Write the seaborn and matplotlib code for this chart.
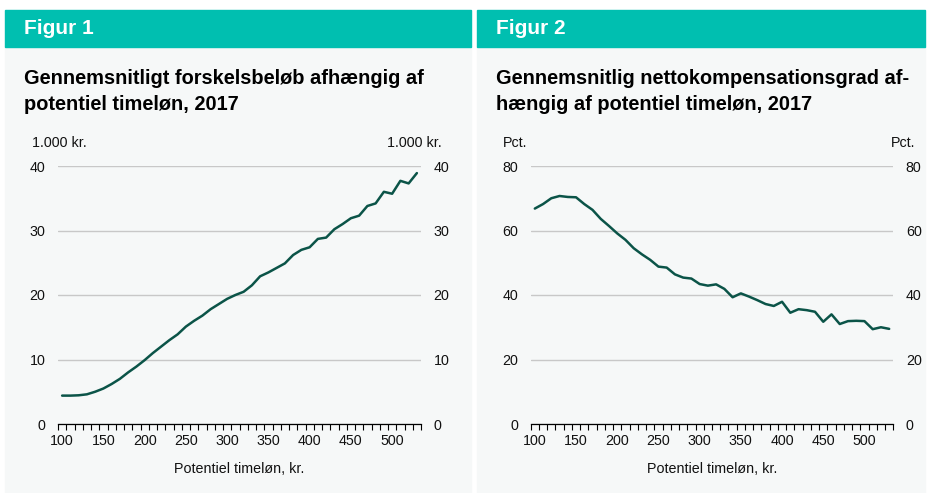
import numpy as np
import pandas as pd
import matplotlib
matplotlib.use('Agg')
import matplotlib.pyplot as plt
from matplotlib.patches import Rectangle
from matplotlib.ticker import MultipleLocator, FixedLocator
import seaborn as sns

# data
timeloen = [100, 110, 120, 130, 140, 150, 160, 170, 180, 190,
            200, 210, 220, 230, 240, 250, 260, 270, 280, 290,
            300, 310, 320, 330, 340, 350, 360, 370, 380, 390,
            400, 410, 420, 430, 440, 450, 460, 470, 480, 490,
            500, 510, 520, 530]
forskel = [4.4, 4.4, 4.45, 4.6, 5.0, 5.5, 6.2, 7.0, 8.0, 8.9,
           9.9, 11.0, 12.0, 13.0, 13.9, 15.1, 16.0, 16.8, 17.8, 18.6,
           19.4, 20.0, 20.5, 21.5, 22.9, 23.5, 24.2, 24.9, 26.2, 27.0,
           27.4, 28.7, 28.9, 30.2, 31.0, 31.9, 32.3, 33.8, 34.2, 36.0,
           35.7, 37.7, 37.3, 38.9]
netto = [66.8, 68.2, 70.0, 70.7, 70.4, 70.3, 68.2, 66.4, 63.6, 61.4,
         59.1, 57.1, 54.5, 52.6, 50.9, 48.8, 48.5, 46.4, 45.4, 45.1,
         43.4, 42.9, 43.3, 41.9, 39.3, 40.5, 39.5, 38.4, 37.2, 36.6,
         37.9, 34.5, 35.6, 35.3, 34.8, 31.7, 34.0, 31.0, 31.9, 32.0,
         31.9, 29.4, 30.0, 29.5]

df = pd.DataFrame({'timeloen': timeloen, 'forskel': forskel, 'netto': netto})

sns.set_theme(style='white')
plt.rcParams['font.family'] = ['Liberation Sans', 'DejaVu Sans']

W, H = 930, 493
fig = plt.figure(figsize=(W / 100, H / 100), dpi=100)
fig.patch.set_facecolor('white')

teal = '#00BFB0'
panel = '#F6F8F8'
linec = '#0B5448'
gridc = '#C8C8C8'
txtc = '#111111'
fs = 10.3


def px(x, y):
    return x / W, 1 - y / H


def panel_box(x0, x1, nr, titel):
    # grey panel + teal header
    fig.patches.append(Rectangle(px(x0, H), (x1 - x0) / W, (H - 46) / H,
                                 transform=fig.transFigure, color=panel, zorder=-10))
    fig.patches.append(Rectangle(px(x0, 46.5), (x1 - x0) / W, 36.5 / H,
                                 transform=fig.transFigure, color=teal, zorder=-10))
    fig.text(*px(x0 + 19, 28.5), 'Figur %d' % nr, color='white', fontsize=15,
             fontweight='bold', va='center', ha='left')
    fig.text(*px(x0 + 19, 69.5), titel, color='black', fontsize=14.4,
             fontweight='bold', va='top', ha='left', linespacing=1.45)


def draw(ax, col, ymax, enhed, lx, rx):
    sns.lineplot(data=df, x='timeloen', y=col, ax=ax, color=linec, linewidth=1.8)
    ax.set_facecolor('none')
    ax.set_xlim(95, 535)
    ax.set_ylim(0, ymax)
    ax.yaxis.set_major_locator(MultipleLocator(ymax / 4))
    ax.xaxis.set_major_locator(FixedLocator([100, 150, 200, 250, 300, 350, 400, 450, 500]))
    ax.xaxis.set_minor_locator(FixedLocator(np.arange(95, 536, 10)))
    ax.grid(axis='y', color=gridc, linewidth=1)
    ax.grid(axis='x', visible=False)
    for s in ['top', 'left', 'right']:
        ax.spines[s].set_visible(False)
    ax.spines['bottom'].set_color('black')
    ax.spines['bottom'].set_linewidth(0.9)
    ax.tick_params(axis='x', which='major', length=0, pad=7, labelsize=fs, labelcolor=txtc)
    ax.tick_params(axis='x', which='minor', bottom=True, length=4, width=0.8,
                   color='black', direction='out')
    ax.tick_params(axis='y', left=False, right=False, labelleft=True, labelright=True,
                   length=0, pad=9, labelsize=fs, labelcolor=txtc)
    ax.set_xlabel('Potentiel timeløn, kr.', fontsize=fs, labelpad=10, color=txtc)
    ax.set_ylabel('')
    fig.text(*px(lx, 143), enhed, fontsize=fs, ha='left', va='center', color=txtc)
    fig.text(*px(rx, 143), enhed, fontsize=fs, ha='right', va='center', color=txtc)


panel_box(5, 471, 1, 'Gennemsnitligt forskelsbeløb afhængig af\npotentiel timeløn, 2017')
panel_box(477, 925, 2, 'Gennemsnitlig nettokompensationsgrad af-\nhængig af potentiel timeløn, 2017')

bottom = (H - 424) / H
height = 258 / H
ax1 = fig.add_axes([58 / W, bottom, 363 / W, height])
ax2 = fig.add_axes([530.7 / W, bottom, 362.6 / W, height])

draw(ax1, 'forskel', 40, '1.000 kr.', 32, 442)
draw(ax2, 'netto', 80, 'Pct.', 503, 915)

plt.savefig('out.png', dpi=100)
